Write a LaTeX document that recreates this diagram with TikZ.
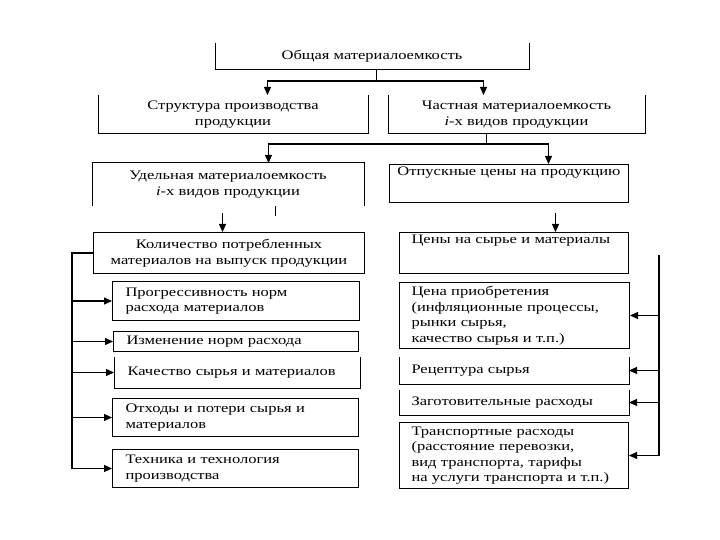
\documentclass[tikz,border=0pt]{standalone}
\usepackage{fontspec}
\setmainfont{Liberation Serif}[FakeStretch=1.27]
\usetikzlibrary{arrows.meta,positioning}
\tikzset{
  box/.style={draw, line width=1pt, anchor=north west, align=center, inner sep=2pt, font=\fontsize{13}{15.5}\selectfont},
  openbox/.style={box, draw=none},
  leftbox/.style={box, align=left, inner xsep=13pt},
  rightbox/.style={box, align=left, inner xsep=12pt},
  rim/.style={line width=1pt},
  link/.style={line width=1.1pt},
  arrow/.style={link, -{Triangle[length=8pt,width=7pt]}}
}
\begin{document}
\begin{tikzpicture}[x=1pt, y=-1pt]
  \path[use as bounding box, fill=white] (0,0) rectangle (720,540);
  % upper levels
  \node[openbox, minimum width=313pt, minimum height=26pt] (total) at (215,43) {Общая материалоемкость};
  \node[openbox, minimum width=269pt, minimum height=38pt] (structure) at (98,95) {Структура производства\\продукции};
  \node[openbox, minimum width=256pt, minimum height=38pt] (partial) at (388,95) {Частная материалоемкость\\\textit{i}-х видов продукции};
  \node[openbox, minimum width=271pt, minimum height=42pt] (specific) at (92,163) {Удельная материалоемкость\\\textit{i}-х видов продукции};
  \node[box, minimum width=239pt, minimum height=38pt, text height=9pt, text depth=25pt] (sale) at (389,164) {Отпускные цены на продукцию};
  \draw[rim] (total.north west) |- (total.south east) -- (total.north east);
  \draw[rim] (structure.north west) |- (structure.south east) -- (structure.north east);
  \draw[rim] (partial.north west) |- (partial.south east) -- (partial.north east);
  \draw[rim] (specific.south west) |- (specific.north east) -- (specific.south east);
  % left column
  \node[box, minimum width=271pt, minimum height=41pt] (amount) at (93,232) {Количество потребленных\\материалов на выпуск продукции};
  \node[leftbox, text width=221pt, minimum height=39pt] (norms) at (112,281) {Прогрессивность норм\\расхода материалов};
  \node[leftbox, text width=219pt, minimum height=20pt] (change) at (113,331) {Изменение норм расхода};
  \node[leftbox, draw=none, text width=219pt, minimum height=30pt] (quality) at (114,357) {Качество сырья и материалов};
  \node[leftbox, text width=220pt, minimum height=38pt] (waste) at (112,398) {Отходы и потери сырья и\\материалов};
  \node[leftbox, text width=220pt, minimum height=38pt] (tech) at (112,449) {Техника и технология\\производства};
  \draw[rim] (quality.north west) |- (quality.south east) -- (quality.north east);
  % right column
  \node[rightbox, text width=205pt, text height=9pt, text depth=28pt] (rawprice) at (399,232) {Цены на сырье и материалы};
  \node[rightbox, text width=206pt, minimum height=66pt] (purchase) at (399,282) {Цена приобретения\\(инфляционные процессы,\\рынки сырья,\\качество сырья и т.п.)};
  \node[rightbox, draw=none, text width=205pt, minimum height=26pt] (recipe) at (399,357) {Рецептура сырья};
  \node[rightbox, draw=none, text width=205pt, minimum height=24pt] (procure) at (399,390) {Заготовительные расходы};
  \node[rightbox, text width=205pt, minimum height=66pt] (transport) at (399,422) {Транспортные расходы\\(расстояние перевозки,\\вид транспорта, тарифы\\на услуги транспорта и т.п.)};
  \draw[rim] (recipe.north west) |- (recipe.south east) -- (recipe.north east);
  \draw[rim] (procure.north west) |- (procure.south east) -- (procure.north east);
  % connectors
  \draw[link] ([xshift=4.5pt]total.south) -- ++(0,11) coordinate (split1);
  \draw[arrow] (split1) -| ([xshift=34.5pt]structure.north);
  \draw[arrow] (split1) -| ([xshift=-33pt]partial.north);
  \draw[link] ([xshift=-30pt]partial.south) -- ++(0,10) coordinate (split2);
  \draw[arrow] (split2) -| ([xshift=40.5pt]specific.north);
  \draw[arrow] (split2) -| ([xshift=39.5pt]sale.north);
  \draw[link] ([xshift=47.5pt]specific.south) -- ++(0,10);
  \draw[arrow] ([xshift=-6.5pt,yshift=19pt]amount.north) -- ([xshift=-6.5pt]amount.north);
  \draw[arrow] ([xshift=41.5pt,yshift=19pt]rawprice.north) -- ([xshift=41.5pt]rawprice.north);
  \draw[link] (amount.west) -- ++(-21,0) coordinate (lbar) -- (lbar |- tech.west);
  \foreach \n in {norms,change,quality,waste,tech}
    \draw[arrow] (lbar |- \n.west) -- (\n.west);
  \coordinate (rbar) at (659,255);
  \draw[link] (rbar) -- (rbar |- transport.east);
  \foreach \n in {purchase,recipe,procure,transport}
    \draw[arrow] (rbar |- \n.east) -- (\n.east);
\end{tikzpicture}
\end{document}
